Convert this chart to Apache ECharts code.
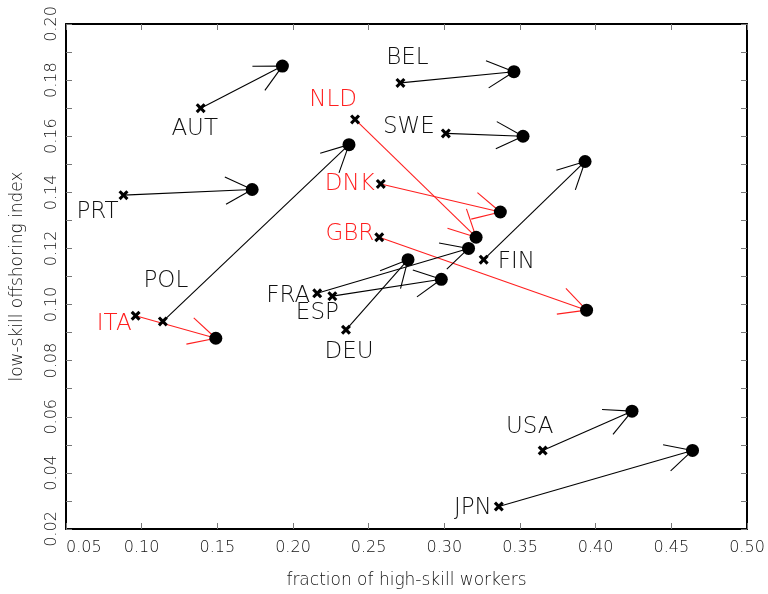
<!DOCTYPE html>
<html>
<head>
<meta charset="utf-8">
<script src="https://cdn.jsdelivr.net/npm/echarts@6/dist/echarts.min.js"></script>
<style>html,body{margin:0;padding:0;background:#fff}#chart{width:768px;height:594px}</style>
</head>
<body>
<div id="chart"></div>
<script>
// ---- data ----
const countries  = ['AUT','BEL','NLD','SWE','FIN','DNK','GBR','PRT','POL','ITA','FRA','ESP','DEU','USA','JPN'];
const skillStart = [0.139,0.271,0.241,0.301,0.326,0.258,0.257,0.088,0.114,0.096,0.216,0.226,0.235,0.365,0.336];
const offStart   = [0.170,0.179,0.166,0.161,0.116,0.143,0.124,0.139,0.094,0.096,0.104,0.103,0.091,0.048,0.028];
const skillEnd   = [0.193,0.346,0.321,0.352,0.393,0.337,0.394,0.173,0.237,0.149,0.316,0.298,0.276,0.424,0.464];
const offEnd     = [0.185,0.183,0.124,0.160,0.151,0.133,0.098,0.141,0.157,0.088,0.120,0.109,0.116,0.062,0.048];
const highlighted = ['NLD','DNK','GBR','ITA'];
const xTicks = [0.05,0.10,0.15,0.20,0.25,0.30,0.35,0.40,0.45,0.50];
const yTickLabels = [0.02,0.04,0.06,0.08,0.10,0.12,0.14,0.16,0.18,0.20];

// ---- label placement relative to start marker (styling only) ----
const labelLayout = {
  AUT:{dx:-6,dy:21,align:'center'}, BEL:{dx:7,dy:-25,align:'center'},
  NLD:{dx:-22,dy:-19,align:'center'}, SWE:{dx:-11,dy:-6,align:'right'},
  DNK:{dx:-6,dy:0,align:'right'}, GBR:{dx:-5,dy:-3,align:'right'},
  FIN:{dx:14,dy:2,align:'left'}, PRT:{dx:-26,dy:17,align:'center'},
  POL:{dx:3,dy:-40,align:'center'}, ITA:{dx:-4,dy:8,align:'right'},
  FRA:{dx:-7,dy:3,align:'right'}, ESP:{dx:-15,dy:17,align:'center'},
  DEU:{dx:3,dy:22,align:'center'}, USA:{dx:-13,dy:-23,align:'center'},
  JPN:{dx:-7,dy:1,align:'right'}
};

const RED = '#ff1f1f';
const FONT = 'DejaVu Sans';
const chart = echarts.init(document.getElementById('chart'), null, {renderer:'canvas'});

const arrowData = countries.map((c,i)=>[skillStart[i], offStart[i], skillEnd[i], offEnd[i], i]);

function renderArrow(params, api) {
  const i = api.value(4);
  const name = countries[i];
  const red = highlighted.indexOf(name) >= 0;
  const col = red ? RED : '#000';
  const p0 = api.coord([api.value(0), api.value(1)]);
  const p1 = api.coord([api.value(2), api.value(3)]);
  const ang = Math.atan2(p0[1]-p1[1], p0[0]-p1[0]);
  const L = 30, h = 27*Math.PI/180;
  const b1 = [p1[0]+L*Math.cos(ang+h), p1[1]+L*Math.sin(ang+h)];
  const b2 = [p1[0]+L*Math.cos(ang-h), p1[1]+L*Math.sin(ang-h)];
  const lay = labelLayout[name];
  const ls = {stroke: col, lineWidth: 1.1};
  return {
    type:'group',
    children:[
      {type:'line', shape:{x1:p0[0],y1:p0[1],x2:p1[0],y2:p1[1]}, style:ls},
      {type:'line', shape:{x1:p1[0],y1:p1[1],x2:b1[0],y2:b1[1]}, style:ls},
      {type:'line', shape:{x1:p1[0],y1:p1[1],x2:b2[0],y2:b2[1]}, style:ls},
      {type:'text', x:p0[0]+lay.dx, y:p0[1]+lay.dy,
        style:{text:name, fill: red ? RED : '#111', font:'200 23px "'+FONT+'"',
               align:lay.align, verticalAlign:'middle'}}
    ]
  };
}

const fmt2 = v => (Math.round(v*100)/100).toFixed(2);
const axisCommon = {
  type:'value',
  axisLine:{show:true, onZero:false, lineStyle:{color:'#000', width:2}},
  axisTick:{show:true, inside:true, length:6, lineStyle:{color:'#777', width:1}},
  splitLine:{show:false}
};

const option = {
  animation:false,
  backgroundColor:'#fff',
  grid:{left:66, right:21, top:24, bottom:61},
  xAxis:[
    Object.assign({}, axisCommon, {
      min:0.05, max:0.50, interval:0.05, position:'bottom',
      name:'fraction of high-skill workers', nameLocation:'middle', nameGap:43,
      nameTextStyle:{fontFamily:FONT, fontSize:17, color:'#111', fontWeight:200},
      axisLabel:{show:true, margin:11, fontFamily:FONT, fontSize:16, color:'#111', fontWeight:200,
        alignMinLabel:'left',
        formatter: v => xTicks.some(t=>Math.abs(t-v)<1e-9) ? fmt2(v) : ''}
    }),
    Object.assign({}, axisCommon, {
      min:0.05, max:0.50, interval:0.05, position:'top', axisLabel:{show:false}
    })
  ],
  yAxis:[
    Object.assign({}, axisCommon, {
      min:0.02, max:0.20, interval:0.01, position:'left',
      name:'low-skill offshoring index', nameLocation:'middle', nameGap:40,
      nameTextStyle:{fontFamily:FONT, fontSize:17, color:'#111', fontWeight:200},
      axisLabel:{show:true, rotate:90, margin:6, fontFamily:FONT, fontSize:16, color:'#111', fontWeight:200,
        formatter: v => yTickLabels.some(t=>Math.abs(t-v)<1e-9) ? fmt2(v) : ''}
    }),
    Object.assign({}, axisCommon, {
      min:0.02, max:0.20, interval:0.01, position:'right', axisLabel:{show:false}
    })
  ],
  series:[
    {type:'custom', renderItem:renderArrow, data:arrowData, z:2,
     encode:{x:[0,2], y:[1,3]}, clip:false},
    {type:'scatter', z:3, symbol:'circle', symbolSize:13,
     itemStyle:{color:'#000', opacity:1},
     data: countries.map((c,i)=>[skillEnd[i], offEnd[i]])},
    {type:'scatter', z:4,
     symbol:'path://M0,2.2 L2.2,0 L5,2.8 L7.8,0 L10,2.2 L7.2,5 L10,7.8 L7.8,10 L5,7.2 L2.2,10 L0,7.8 L2.8,5 Z',
     symbolSize:10, itemStyle:{color:'#000', opacity:1},
     data: countries.map((c,i)=>[skillStart[i], offStart[i]])}
  ]
};
chart.setOption(option);
</script>
</body>
</html>
